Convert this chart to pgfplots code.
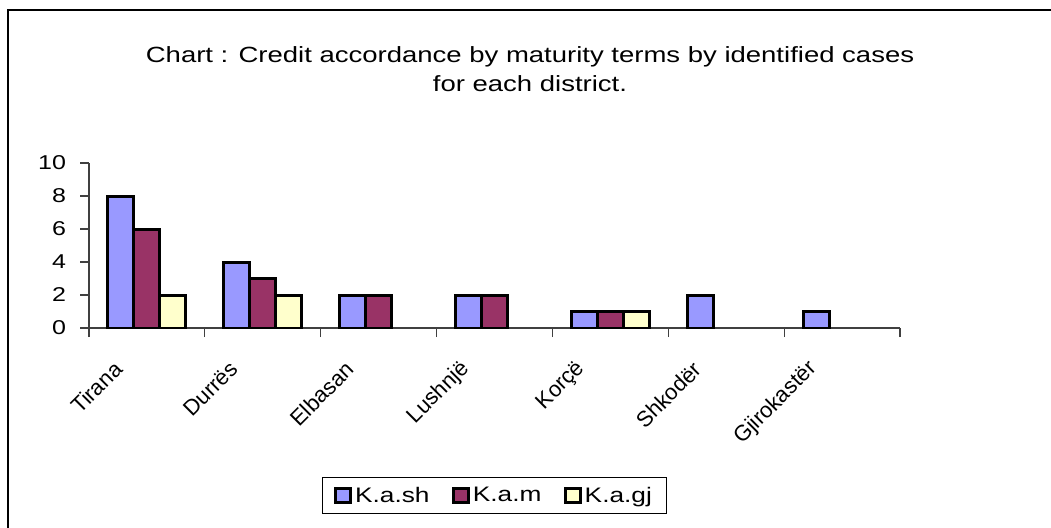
\documentclass[border=0pt]{standalone}
\usepackage{fontspec}
\setmainfont{Liberation Sans}[FakeStretch=1.25]
\newfontfamily\catfont{Liberation Sans}
\usepackage{pgfplots}
\pgfplotsset{compat=1.18}

\definecolor{barblue}{HTML}{9999FF}
\definecolor{barplum}{HTML}{993366}
\definecolor{barcream}{HTML}{FFFFCC}

\begin{document}
\begin{tikzpicture}[x=0.75bp,y=0.75bp]
\useasboundingbox (0,0) rectangle (1051,527);
% outer chart frame
\draw[line width=1.5bp] (8,-10) -- (8,516.5) -- (1060,516.5);
% title
\node[anchor=base, inner sep=0pt, font=\fontsize{16.5bp}{20bp}\selectfont] at (530,464)
  {Chart : Credit accordance by maturity terms by identified cases};
\node[anchor=base, inner sep=0pt, font=\fontsize{16.5bp}{20bp}\selectfont] at (530,435)
  {for each district.};

\begin{axis}[
  at={(66.75bp,149.25bp)}, anchor=south west,
  scale only axis, width=608.25bp, height=123.75bp,
  xmin=-0.5, xmax=6.5, ymin=0, ymax=10,
  axis x line*=bottom, axis y line*=left,
  axis line style={draw=black!75, line width=0.9bp},
  ybar=0pt, bar width=19.5bp,
  ytick={0,2,...,10},
  xtick={-0.5,0.5,...,6.5},
  x tick label as interval,
  xticklabels={Tirana,Durrës,Elbasan,Lushnjë,Korçë,Shkodër,Gjirokastër},
  tick align=outside,
  major tick length=6.75bp,
  tick style={draw=black!75, line width=0.9bp},
  /pgf/number format/assume math mode=true,
  yticklabel style={font=\fontsize{15bp}{18bp}\selectfont, xshift=-7bp},
  xticklabel style={font=\catfont\fontsize{16.5bp}{18bp}\selectfont,
    xshift=-19bp, yshift=-19bp, rotate=45, anchor=east},
  legend style={at={(0.5,-1.015)}, anchor=center, legend columns=3,
    draw=black, line width=0.75bp, font=\fontsize{15.75bp}{18bp}\selectfont,
    inner xsep=9bp, inner ysep=5bp,
    /tikz/every even column/.append style={column sep=15bp}},
  legend image code/.code={\draw[#1, line width=2.25bp] (0bp,-5.6bp) rectangle (11.25bp,5.6bp);},
  every axis plot/.append style={draw=black, line width=2.25bp},
]
\addplot[fill=barblue] coordinates {(0,8) (1,4) (2,2) (3,2) (4,1) (5,2) (6,1)};
\addplot[fill=barplum] coordinates {(0,6) (1,3) (2,2) (3,2) (4,1)};
\addplot[fill=barcream] coordinates {(0,2) (1,2) (4,1)};
\legend{K.a.sh, K.a.m, K.a.gj}
\end{axis}
\end{tikzpicture}
\end{document}
